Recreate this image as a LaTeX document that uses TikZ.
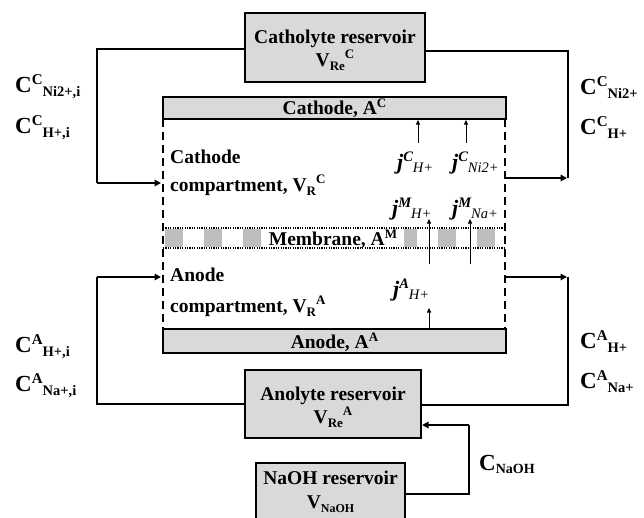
\documentclass[tikz,border=0pt]{standalone}
\usepackage{fontspec}
\setmainfont{Liberation Serif}
\usetikzlibrary{arrows.meta}
\definecolor{boxgray}{RGB}{217,217,217}
\definecolor{memgray}{RGB}{190,190,190}
\newcommand\bigCl[2]{{\fontsize{23}{23}\selectfont C}\raisebox{7.5pt}{\fontsize{15}{15}\selectfont #1}\raisebox{-4pt}{\fontsize{14.5}{14.5}\selectfont #2}}
\newcommand\VVl[3]{#1\raisebox{-4pt}{\fontsize{13}{13}\selectfont #2}\raisebox{8pt}{\fontsize{13}{13}\selectfont #3}}
\newcommand\JJl[2]{{\fontsize{22}{22}\selectfont\itshape j}\raisebox{7.5pt}{\fontsize{14.5}{14.5}\selectfont\itshape #1}\raisebox{-3pt}{\fontsize{14.5}{14.5}\selectfont\mdseries\itshape #2}}
\begin{document}
\begin{tikzpicture}[x=1pt,y=-1pt,
  box/.style={draw, line width=2.2pt, fill=boxgray, inner sep=0pt},
  conn/.style={line width=2.2pt},
  arr/.style={line width=2.2pt, -{Triangle[length=6.5pt,width=6.5pt]}},
  jarr/.style={line width=0.7pt, -{Triangle[length=4.5pt,width=4pt]}},
  dsh/.style={line width=2.2pt, dash pattern=on 8pt off 5pt},
  dotl/.style={line width=1.4pt, dash pattern=on 1.2pt off 1.2pt},
  txt/.style={font=\fontsize{19.5}{21}\bfseries\selectfont, inner sep=0pt},
  lbl/.style={font=\bfseries, inner sep=0pt, anchor=base west},
  jl/.style={font=\bfseries, inner sep=0pt, anchor=base west}]
\useasboundingbox (0,0) rectangle (644,517);

% reservoirs
\node[box, minimum width=180pt, minimum height=69pt] (cres) at (335,47.5) {};
\node[txt, anchor=base] (cres1) at (335,43) {Catholyte reservoir};
\node[txt, anchor=base] (cres2) at (335,66) {\VVl{V}{Re}{C}};

\node[box, minimum width=176pt, minimum height=68pt] (ares) at (333,404) {};
\node[txt, anchor=base] (ares1) at (333,400) {Anolyte reservoir};
\node[txt, anchor=base] (ares2) at (333,423) {\VVl{V}{Re}{A}};

\node[box, minimum width=149pt, minimum height=70pt] (nres) at (330.5,498) {};
\node[txt, anchor=base] (nres1) at (330.5,484) {NaOH reservoir};
\node[txt, anchor=base] (nres2) at (330.5,508) {V\raisebox{-4pt}{\fontsize{12}{12}\selectfont NaOH}};

% electrodes
\node[box, minimum width=343pt, minimum height=22pt] (cath) at (334.5,108) {};
\node[txt, anchor=base] (cathT) at (334.5,114) {Cathode, A\raisebox{7pt}{\fontsize{13}{13}\selectfont C}};
\node[box, minimum width=343pt, minimum height=24pt] (anod) at (334.5,341) {};
\node[txt, anchor=base] (anodT) at (334.5,348) {Anode, A\raisebox{7pt}{\fontsize{13}{13}\selectfont A}};

% membrane
\foreach \k in {0,...,8} {
  \fill[memgray] ({165+39*\k},229) rectangle ({183+39*\k},247);
}
\fill[white] (263,229) rectangle (404,247);
\node[txt, anchor=base] (memT) at (333,245) {Membrane, A\raisebox{7pt}{\fontsize{13}{13}\selectfont M}};
\coordinate (mtl) at (163,228);
\coordinate (mtr) at (506,228);
\coordinate (mbl) at (163,248);
\coordinate (mbr) at (506,248);
\draw[dotl] (mtl) -- (mtr);
\draw[dotl] (mbl) -- (mbr);

% dashed cell sides
\coordinate (ltop) at (163,119);
\coordinate (lbot) at (163,329);
\coordinate (rtop) at (505,119);
\coordinate (rbot) at (505,329);
\draw[dsh] (ltop) -- (lbot);
\draw[dsh] (rtop) -- (rbot);

% compartment texts
\node[txt, anchor=base west] (cc1) at (170,163) {Cathode};
\node[txt, anchor=base west] (cc2) at (170,191) {compartment, \VVl{V}{R}{C}};
\node[txt, anchor=base west] (ac1) at (170,281) {Anode};
\node[txt, anchor=base west] (ac2) at (170,312) {compartment, \VVl{V}{R}{A}};

% loops
\coordinate (lc1) at (97,49);
\coordinate (lc2) at (97,183);
\coordinate (lin) at (161,183);
\draw[conn] (cres.west |- lc1) -- (lc1) -- (lc2);
\draw[arr] (lc2) -- (lin);

\coordinate (rc1) at (568,51);
\coordinate (rc2) at (568,178);
\coordinate (rout) at (505,178);
\draw[conn] (cres.east |- rc1) -- (rc1) -- (rc2);
\draw[arr] (rout) -- ([xshift=-1pt]rc2);

\coordinate (la1) at (97,404);
\coordinate (la2) at (97,277);
\coordinate (lain) at (161,277);
\draw[conn] (ares.west |- la1) -- (la1) -- (la2);
\draw[arr] (la2) -- (lain);

\coordinate (ra1) at (568,405);
\coordinate (ra2) at (568,277);
\coordinate (raout) at (505,277);
\draw[conn] (ares.east |- ra1) -- (ra1) -- (ra2);
\draw[arr] (raout) -- ([xshift=-1pt]ra2);

\coordinate (n1) at (469,494);
\coordinate (n2) at (469,425);
\draw[conn] (nres.east |- n1) -- (n1) -- (n2);
\draw[arr] (n2) -- (ares.east |- n2);

% flux arrows
\coordinate (f1a) at (418,143); \coordinate (f1b) at (418,120);
\coordinate (f2a) at (466,143); \coordinate (f2b) at (466,120);
\coordinate (f3a) at (429,264); \coordinate (f3b) at (429,219);
\coordinate (f4a) at (470,264); \coordinate (f4b) at (470,219);
\coordinate (f5a) at (429,329); \coordinate (f5b) at (429,308);
\draw[jarr] (f1a) -- (f1b);
\draw[jarr] (f2a) -- (f2b);
\draw[jarr] (f3a) -- (f3b);
\draw[jarr] (f4a) -- (f4b);
\draw[jarr] (f5a) -- (f5b);

% flux labels
\node[jl] (j1) at (397,169) {\JJl{C}{H+}};
\node[jl] (j2) at (452,169) {\JJl{C}{Ni2+}};
\node[jl] (j3) at (392,215) {\JJl{M}{H+}};
\node[jl] (j4) at (452,215) {\JJl{M}{Na+}};
\node[jl] (j5) at (393,296) {\JJl{A}{H+}};

% concentration labels
\node[lbl] (L1) at (15,92) {\bigCl{C}{Ni2+,i}};
\node[lbl] (L2) at (15,133) {\bigCl{C}{H+,i}};
\node[lbl] (L3) at (15,352) {\bigCl{A}{H+,i}};
\node[lbl] (L4) at (15,391) {\bigCl{A}{Na+,i}};
\node[lbl] (R1) at (580,94) {\bigCl{C}{Ni2+}};
\node[lbl] (R2) at (580,134) {\bigCl{C}{H+}};
\node[lbl] (R3) at (580,348) {\bigCl{A}{H+}};
\node[lbl] (R4) at (580,388) {\bigCl{A}{Na+}};
\node[lbl] (CN) at (479,470) {{\fontsize{23}{23}\selectfont C}\raisebox{-3pt}{\fontsize{14}{14}\selectfont NaOH}};
\end{tikzpicture}
\end{document}
